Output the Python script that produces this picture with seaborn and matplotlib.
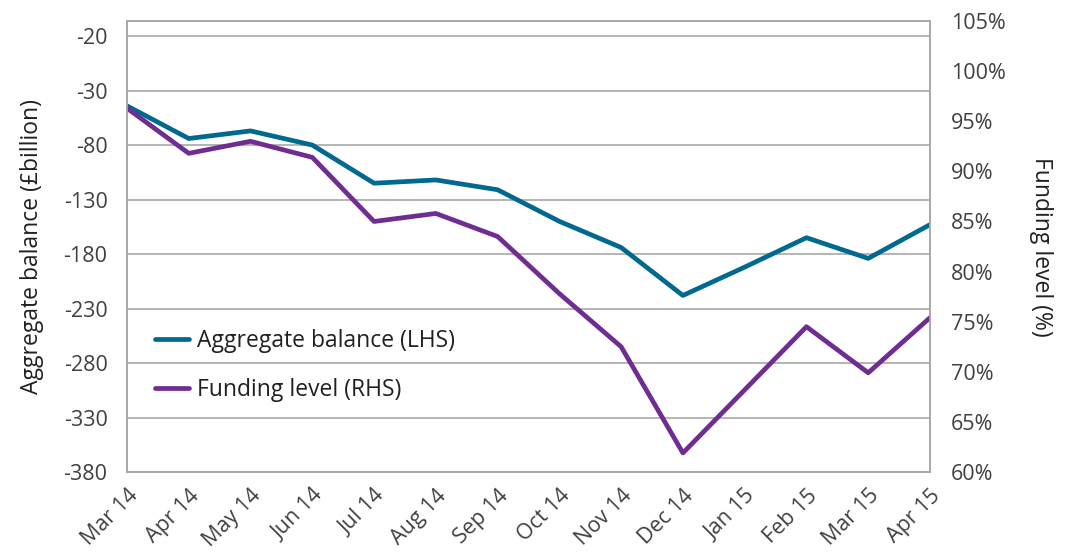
import matplotlib

matplotlib.use('Agg')
import matplotlib.pyplot as plt
import seaborn as sns
import pandas as pd

# Данные
months = ['Mar 14', 'Apr 14', 'May 14', 'Jun 14', 'Jul 14', 'Aug 14', 'Sep 14',
          'Oct 14', 'Nov 14', 'Dec 14', 'Jan 15', 'Feb 15', 'Mar 15', 'Apr 15']
aggregate_balance = [-44, -74, -67, -80, -115, -112, -121,
                     -150, -174, -218, -192, -165, -184, -153]
funding_level = [96.3, 91.8, 93.0, 91.4, 85.0, 85.8, 83.5,
                 77.8, 72.5, 61.9, 68.2, 74.5, 69.9, 75.4]

left_ticks = [-380, -330, -280, -230, -180, -130, -80, -30, 20]
left_tick_labels = ['-380', '-330', '-280', '-230', '-180', '-130', '-80', '-30', '-20']
right_ticks = [60, 65, 70, 75, 80, 85, 90, 95, 100, 105]

BLUE = '#00698f'
PURPLE = '#6f2c91'
GRID = '#a8a8a8'
TEXT = '#404040'
DARK = '#231f20'

sns.set_theme(style="white")
plt.rcParams['font.family'] = ['Open Sans', 'DejaVu Sans']
plt.rcParams['axes.unicode_minus'] = False

df = pd.DataFrame({'month': months, 'balance': aggregate_balance, 'funding': funding_level})
df['pos'] = range(len(df))

fig = plt.figure(figsize=(10.67, 5.54), dpi=100)
ax = fig.add_axes([0.119, 0.148, 0.7526, 0.814])
ax2 = ax.twinx()

sns.lineplot(ax=ax, data=df, x='pos', y='balance', color=BLUE, linewidth=3.4,
             label='Aggregate balance (LHS)', legend=False)
sns.lineplot(ax=ax2, data=df, x='pos', y='funding', color=PURPLE, linewidth=3.4,
             label='Funding level (RHS)', legend=False)

# Ось X
ax.set_xlim(0, len(months) - 1)
ax.set_xticks(df['pos'])
ax.set_xticklabels(months, rotation=45, ha='right', rotation_mode='anchor',
                   fontsize=15.5, color=TEXT)
ax.tick_params(axis='x', direction='inout', length=9, width=1, color=GRID, pad=5)
ax.set_xlabel('')

# Левая ось
ax.set_ylim(-380, 33.8)
ax.set_yticks(left_ticks)
ax.set_yticklabels(left_tick_labels, fontsize=15.5, color=TEXT)
ax.tick_params(axis='y', length=0, pad=14)
ax.set_ylabel('Aggregate balance (£billion)', fontsize=16.5, color=DARK, labelpad=14)
ax.grid(axis='y', color=GRID, linewidth=1.2)
ax.grid(axis='x', visible=False)

# Правая ось
ax2.set_ylim(60, 105)
ax2.set_yticks(right_ticks)
ax2.set_yticklabels([f'{t}%' for t in right_ticks], fontsize=15.5, color=TEXT)
ax2.tick_params(axis='y', length=0, pad=15)
ax2.set_ylabel('Funding level (%)', fontsize=16.5, color=DARK, rotation=-90, labelpad=34)
ax2.grid(False)

for a in (ax, ax2):
    for s in a.spines.values():
        s.set_color(GRID)
        s.set_linewidth(1.2)

# Легенда
handles = ax.get_lines()[:1] + ax2.get_lines()[:1]
ax2.legend(handles, [h.get_label() for h in handles], loc='center left',
           bbox_to_anchor=(0.035, 0.236), frameon=False, fontsize=16.5,
           handlelength=1.5, handletextpad=0.35, labelspacing=1.1,
           borderpad=0, borderaxespad=0, labelcolor=DARK)

plt.savefig('out.png', dpi=100)
plt.close()
